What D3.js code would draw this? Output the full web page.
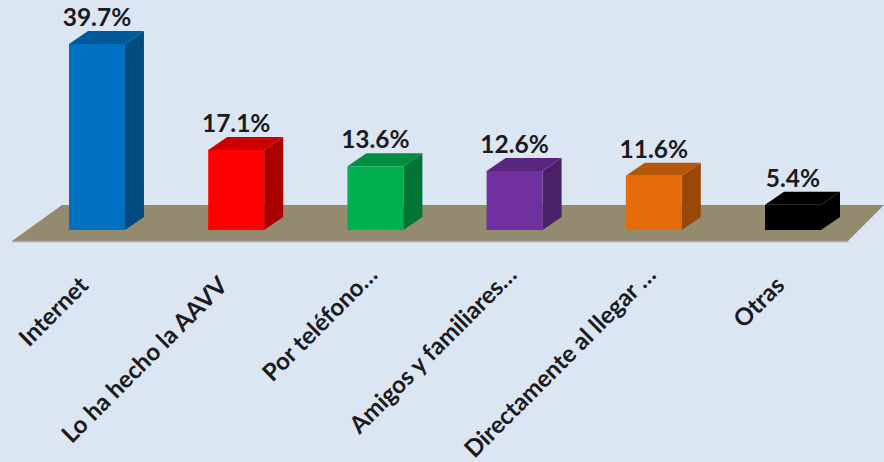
<!DOCTYPE html>
<html>
<head>
<meta charset="utf-8">
<script src="https://cdn.jsdelivr.net/npm/d3@7/dist/d3.min.js"></script>
<style>
html,body{margin:0;padding:0;background:#dce6f2;}
svg{display:block;}
text{font-family:Lato,"Open Sans",sans-serif;font-weight:700;fill:#1a1a22;}
</style>
</head>
<body>
<svg id="chart" width="884" height="462"></svg>
<script>
const categories = ["Internet","Lo ha hecho la AAVV","Por teléfono…","Amigos y familiares…","Directamente al llegar …","Otras"];
const values = [39.7,17.1,13.6,12.6,11.6,5.4];
const frontColors = ["#0070c0","#ff0000","#00b050","#7030a0","#e46c0a","#000000"];
const topColors = ["#005a9a","#cc0000","#008d40","#5a2680","#b65608","#000000"];
const sideColors = ["#004b80","#aa0000","#007535","#4a2069","#984807","#000000"];

const depthX = 19, depthY = 13;
const baseY = 230;

const svg = d3.select("#chart");

const x = d3.scaleBand().domain(categories).range([69,821]).paddingInner(0.598).paddingOuter(0);
const y = d3.scaleLinear().domain([0,40]).range([baseY,baseY-187.4]);

// floor plane the columns stand on
const floorLine = d3.line();
svg.append("path")
  .attr("d", floorLine([[12,241],[62,205],[884,205],[848,241]])+"Z")
  .attr("fill","#948a70");
svg.append("path")
  .attr("d", floorLine([[12,241.5],[848,241.5]]))
  .attr("stroke","#a9a9a9").attr("stroke-width",1.5).attr("fill","none");

const bars = svg.selectAll("g.bar").data(categories).join("g").attr("class","bar");

// side face
bars.append("path")
  .attr("d",(c,i)=>{
    const r=x(c)+x.bandwidth(), t=y(values[i]);
    return floorLine([[r,t],[r+depthX,t-depthY],[r+depthX,baseY-depthY],[r,baseY]])+"Z";
  })
  .attr("fill",(c,i)=>sideColors[i]);

// top face
bars.append("path")
  .attr("d",(c,i)=>{
    const l=x(c), r=l+x.bandwidth(), t=y(values[i]);
    return floorLine([[l,t],[l+depthX,t-depthY],[r+depthX,t-depthY],[r,t]])+"Z";
  })
  .attr("fill",(c,i)=>topColors[i]);

// front face
bars.append("rect")
  .attr("x",c=>x(c))
  .attr("y",(c,i)=>y(values[i]))
  .attr("width",x.bandwidth())
  .attr("height",(c,i)=>baseY-y(values[i]))
  .attr("fill",(c,i)=>frontColors[i]);

// value labels above each column
bars.append("text")
  .attr("x",c=>x(c)+x.bandwidth()/2)
  .attr("y",(c,i)=>y(values[i])-depthY-5)
  .attr("text-anchor","middle")
  .attr("font-size",24.5)
  .text((c,i)=>values[i].toFixed(1)+"%");

// slanted category labels; truncated ones run a little further along the slant
svg.selectAll("text.cat").data(categories).join("text")
  .attr("class","cat")
  .attr("text-anchor","end")
  .attr("font-size",24)
  .attr("transform",c=>`translate(${x(c)+x.bandwidth()/2-19},275) rotate(-45)`)
  .attr("dx",c=>c.endsWith("…")?15:0)
  .attr("dy","0.7em")
  .text(c=>c);
</script>
</body>
</html>
